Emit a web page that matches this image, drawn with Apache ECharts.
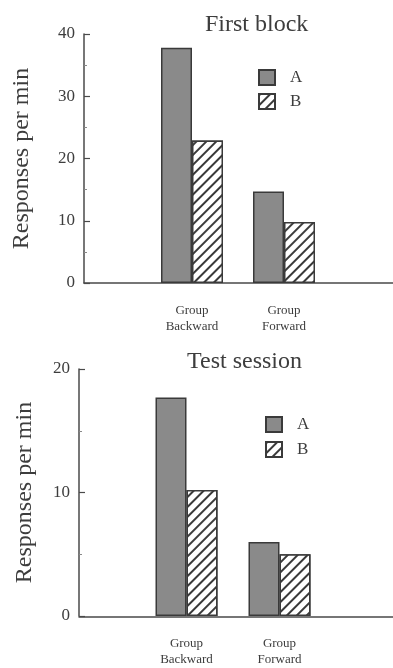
<!DOCTYPE html>
<html><head><meta charset="utf-8">
<script src="https://cdn.jsdelivr.net/npm/echarts@6/dist/echarts.min.js"></script>
<style>html,body{margin:0;padding:0;background:#fff}#c{width:393px;height:668px}</style>
</head><body><div id="c"></div>
<script>
const categories = ['Group\nBackward', 'Group\nForward'];
const seriesNames = ['A', 'B'];
const firstBlockA = [37.8, 14.7];
const firstBlockB = [22.9, 9.8];
const testSessionA = [17.7, 6.0];
const testSessionB = [10.2, 5.0];
const firstBlockMax = 40;
const testSessionMax = 20;
const tickStep = 10;
const titles = ['First block', 'Test session'];
const yName = 'Responses per min';

const serif = 'Liberation Serif, Times New Roman, serif';
const ink = '#3d3d3d';
const lineCol = '#4a4a4a';

const hatch = {
  symbol: 'rect', symbolSize: 1,
  dashArrayX: [1, 0], dashArrayY: [1.4, 5],
  rotation: -Math.PI / 4,
  color: '#3a3a3a', backgroundColor: '#ffffff'
};

function yAx(gridIndex, max, offset, nameGap) {
  return {
    gridIndex, type: 'value', min: 0, max, interval: tickStep, offset,
    name: yName, nameLocation: 'middle', nameGap,
    nameTextStyle: {fontFamily: serif, fontSize: 24, color: ink},
    axisLine: {show: true, lineStyle: {color: lineCol, width: 1.5}},
    axisTick: {show: true, inside: true, length: 6, lineStyle: {color: lineCol, width: 1.2}},
    minorTick: {show: true, splitNumber: 2, length: 3, lineStyle: {color: '#888', width: 1}},
    axisLabel: {fontFamily: serif, fontSize: 17, color: ink, margin: 9},
    splitLine: {show: false}
  };
}
function xCat(gridIndex) {
  return {
    gridIndex, type: 'category', data: categories,
    axisLine: {show: false}, axisTick: {show: false},
    axisLabel: {fontFamily: serif, fontSize: 13, color: ink, margin: 20, lineHeight: 16}
  };
}
function xBase(gridIndex) {
  return {
    gridIndex, type: 'value', min: 0, max: 1,
    axisLine: {show: true, lineStyle: {color: lineCol, width: 1.5}},
    axisTick: {show: false}, axisLabel: {show: false}, splitLine: {show: false}
  };
}
function yHidden(gridIndex) {
  return {gridIndex, type: 'value', min: 0, max: 1, show: false};
}
function barSeries(name, data, xi, yi, isB) {
  return {
    name, type: 'bar', data, xAxisIndex: xi, yAxisIndex: yi,
    barWidth: 31, barGap: '0%',
    itemStyle: isB
      ? {color: '#ffffff', borderColor: '#3a3a3a', borderWidth: 1.5, decal: hatch}
      : {color: '#8a8a8a', borderColor: '#3a3a3a', borderWidth: 1.5},
    emphasis: {disabled: true}
  };
}
function legendAt(left, top, gap) {
  return {
    left, top, padding: 0, orient: 'vertical', data: seriesNames, icon: 'rect',
    itemWidth: 16, itemHeight: 15, itemGap: gap,
    textStyle: {fontFamily: serif, fontSize: 17, color: ink, padding: [0, 0, 0, 10]},
    selectedMode: false
  };
}

const chart = echarts.init(document.getElementById('c'), null, {renderer: 'canvas'});
chart.setOption({
  animation: false,
  aria: {enabled: false},
  title: [
    {text: titles[0], left: 200, top: 8, textStyle: {fontFamily: serif, fontSize: 24, fontWeight: 'normal', color: ink}},
    {text: titles[1], left: 182, top: 345, textStyle: {fontFamily: serif, fontSize: 24, fontWeight: 'normal', color: ink}}
  ],
  legend: [legendAt(258, 69, 7), legendAt(265, 416, 8)],
  grid: [
    {left: 146, right: 63, top: 34, bottom: 385},
    {left: 84, right: 0, top: 34, bottom: 385},
    {left: 140, right: 67, top: 369, bottom: 51},
    {left: 79, right: 0, top: 369, bottom: 51}
  ],
  xAxis: [xCat(0), xBase(1), xCat(2), xBase(3)],
  yAxis: [yAx(0, firstBlockMax, 62, 50), yHidden(1), yAx(2, testSessionMax, 61, 42), yHidden(3)],
  series: [
    barSeries(seriesNames[0], firstBlockA, 0, 0, false),
    barSeries(seriesNames[1], firstBlockB, 0, 0, true),
    barSeries(seriesNames[0], testSessionA, 2, 2, false),
    barSeries(seriesNames[1], testSessionB, 2, 2, true)
  ]
});
</script></body></html>
